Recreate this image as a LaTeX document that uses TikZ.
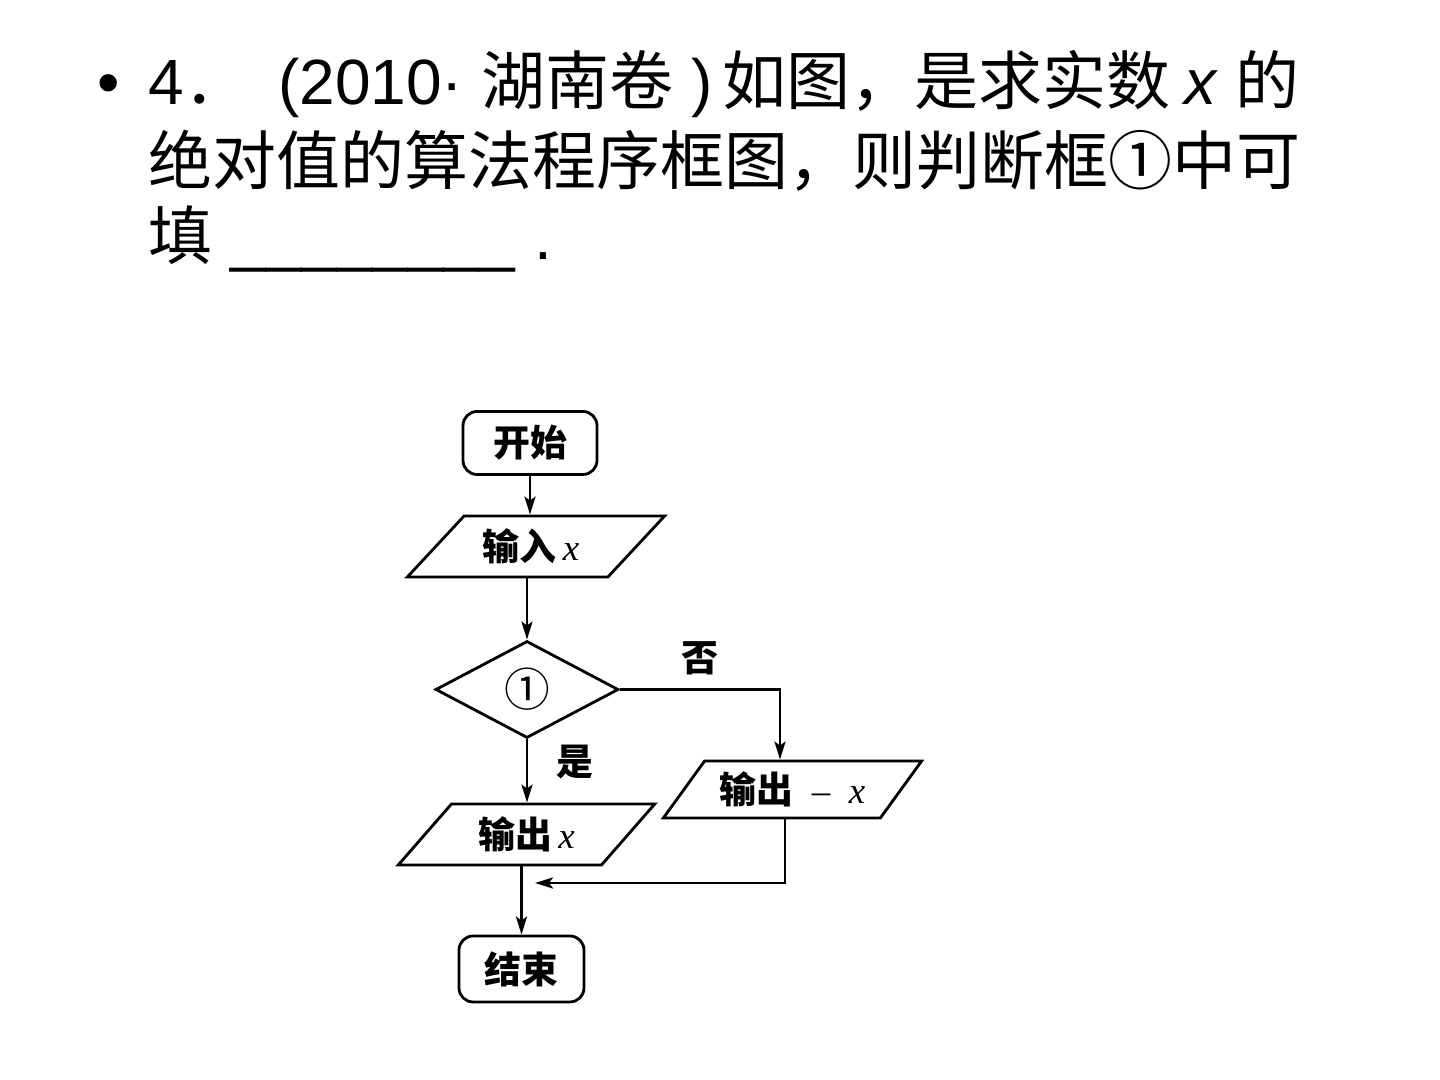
\documentclass[tikz,border=0pt]{standalone}
\usepackage{fontspec}
\setmainfont{Liberation Sans}
\newfontfamily\cjk{Noto Sans CJK SC}
\newfontfamily\rmx{Liberation Serif}
\usetikzlibrary{arrows.meta}
\usetikzlibrary{positioning, shapes.geometric, shapes.misc}
\tikzset{
title line/.style = { anchor = base west, inner sep = 0pt, font = \fontsize{18.2pt}{22pt}\selectfont },
terminal/.style = { rectangle, draw = black, fill = white, rounded corners = 4pt, inner sep = 0pt },
io box/.style = { trapezium, trapezium left angle = 46, trapezium right angle = 134, trapezium stretches = true, draw = black, fill = white, inner sep = 0pt },
decision/.style = { diamond, draw = black, fill = white, aspect = 2, inner sep = 0pt },
flow label/.style = { inner sep = 0pt },
}
\newcommand{\vx}{{\rmx\mdseries\itshape x}}

\begin{document}
\begin{tikzpicture}
    \useasboundingbox (0,0) rectangle (14.4,10.8);
    % question text
    \node[title line] (bullet) at (0.97, 9.75) {•};
    \node[title line] (line1) at (1.48, 9.75) {4{\cjk ．}\hspace{0.3cm}(2010·\hspace{0.18cm}{\cjk 湖南卷}\hspace{0.18cm})\hspace{0.1cm}{\cjk 如图，是求实数}\hspace{0.14cm}\textit{x}\hspace{0.18cm}{\cjk 的}};
    \node[title line] (line2) at (1.48, 8.95) {\cjk 绝对值的算法程序框图，则判断框①中可};
    \node[title line] (line3) at (1.48, 8.20) {{\cjk 填} \_\_\_\_\_\_\_\_\hspace{0.2cm}.};
    % flow chart
    \begin{scope}[line width = 0.8pt, every node/.append style = {font = \fontsize{10.5pt}{12pt}\selectfont\cjk\bfseries}]
      \node[terminal, minimum width = 1.34cm, minimum height = 0.63cm] (start) at (5.30, 6.37) {开始};
      \node[io box, minimum width = 2.58cm, minimum height = 0.61cm] (input) at (5.36, 5.335) {\hspace{-0.1cm}输入\,\vx};
      \node[decision, minimum width = 1.83cm, minimum height = 0.97cm] (test) at (5.27, 3.905) {\fontsize{13pt}{14pt}\selectfont\mdseries ①};
      \node[io box, minimum width = 2.59cm, minimum height = 0.57cm] (outneg) at (7.925, 2.905) {输出\enspace{\rmx\mdseries –}\enspace\vx};
      \node[io box, minimum width = 2.57cm, minimum height = 0.61cm] (outpos) at (5.265, 2.455) {输出\,\vx};
      \node[terminal, minimum width = 1.25cm, minimum height = 0.66cm] (stop) at (5.215, 1.11) {结束};
      \coordinate (merge) at (5.35, 1.97);
      \node[flow label] (no) at (7.00, 4.22) {否};
      \node[flow label] (yes) at (5.75, 3.18) {是};
    \end{scope}
    \begin{scope}[line width = 0.8pt, >={Stealth[length=1.8mm, width=1.1mm, inset=0.4mm]}]
      \draw[->] (start.south) -- (start.south |- input.north);
      \draw[->] (test.north |- input.south) -- (test.north);
      \draw[->] (test.east) -| ([xshift=-1.25mm]outneg.north);
      \draw[->] (test.south) -- (test.south |- outpos.north);
      \draw[->] (stop.north |- outpos.south) -- (stop.north);
      \draw[->] ([xshift=-0.75mm]outneg.south) |- (merge);
    \end{scope}
\end{tikzpicture}
\end{document}
